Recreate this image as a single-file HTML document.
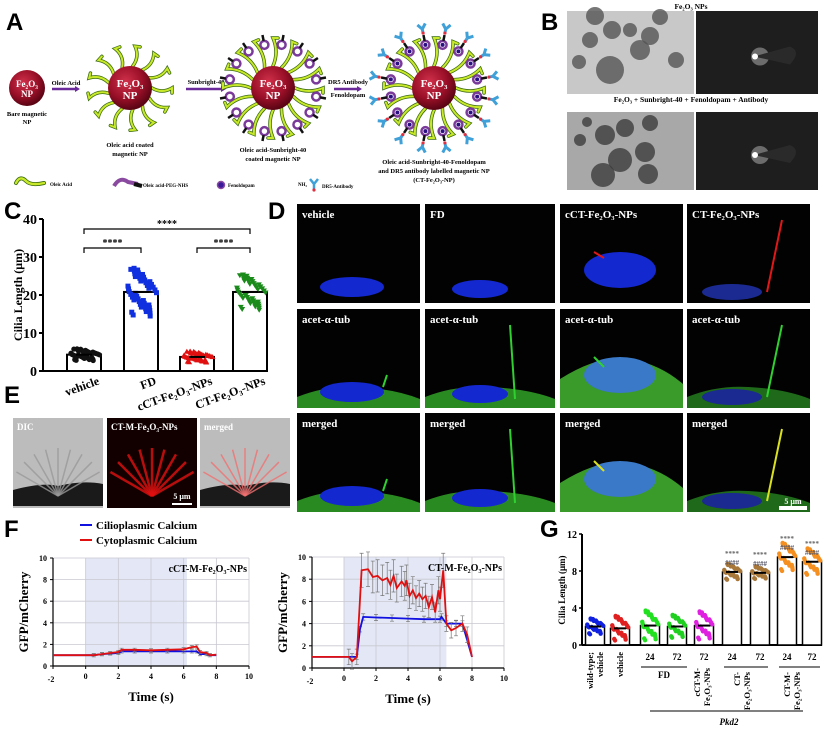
<!DOCTYPE html>
<html><head><meta charset="utf-8">
<style>
html,body{margin:0;padding:0;background:#fff;width:824px;height:732px;overflow:hidden}
svg{display:block;font-family:"Liberation Serif","DejaVu Serif",serif;font-weight:bold}
.pl{font-family:"Liberation Sans",sans-serif;font-weight:bold;font-size:24px}
</style></head><body>
<svg id="fig" width="824" height="732" viewBox="0 0 824 732" xmlns="http://www.w3.org/2000/svg">
<defs>
<radialGradient id="np" cx="40%" cy="35%" r="65%"><stop offset="0" stop-color="#d0304a"/><stop offset="0.6" stop-color="#9a1028"/><stop offset="1" stop-color="#5a0414"/></radialGradient>
</defs>
<text class="pl" x="6" y="30">A</text>
<text class="pl" x="541" y="30">B</text>
<text class="pl" x="4" y="219">C</text>
<text class="pl" x="268" y="219">D</text>
<text class="pl" x="4" y="403">E</text>
<text class="pl" x="4" y="537">F</text>
<text class="pl" x="540" y="537">G</text>
<g id="panelA"></g>
<g id="panelB"></g>
<g id="panelC"></g>
<g id="panelD"></g>
<g id="panelE"></g>
<g id="panelF"></g>
<g id="panelG"></g>
</svg>
<script>
// ---------- DATA ----------
const cCategories = ["vehicle","FD","cCT-Fe₂O₃-NPs","CT-Fe₂O₃-NPs"];
const cValues = [4.3, 20.8, 3.7, 20.8];
const cSpread = [1.6, 6.5, 1.5, 4.8];
const cColors = ["#111","#1030e0","#e01010","#1a8a1a"];
const cTicks = [0,10,20,30,40];

const fTimes = [-2,0,0.5,1,1.5,2,2.2,3,4,5,6,6.5,6.8,7,7.4,7.6,8];
const fLeftBlue = [1,1,1,1.1,1.15,1.2,1.35,1.35,1.35,1.35,1.35,1.35,1.35,1.1,1.1,1.0,1.0];
const fLeftRed  = [1,1,1,1.1,1.2,1.3,1.5,1.5,1.45,1.5,1.55,1.75,1.8,1.3,1.2,1.0,1.05];
const fRightBlueT = [-2,0.8,1.0,1.2,2,3,4,5,6,6.1,6.4,7,7.4,8];
const fRightBlue  = [1,1,3.5,4.6,4.55,4.5,4.45,4.4,4.4,4.6,4.0,4.0,4.0,1.0];
const fRightRedT = [-2,0.3,0.5,0.8,1.1,1.5,1.8,2.1,2.4,2.7,2.9,3.1,3.3,3.6,3.8,3.9,4.1,4.3,4.5,4.7,4.9,5.1,5.3,5.5,5.7,5.9,6.0,6.2,6.4,6.7,7.0,7.4,7.7,8];
const fRightRed  = [1,1,0.6,1,8.8,8.9,8.2,8.3,7.9,8.1,7.5,8.3,7.2,7.8,7.4,7.9,6.5,7.0,6.3,6.7,6.2,6.5,5.5,6.4,5.0,7.0,6.2,8.8,4.0,3.4,3.6,4.0,3.0,1.0];
const fTicksX = [-2,0,2,4,6,8,10];
const fTicksY = [0,2,4,6,8,10];

const gValues = [2.0,1.8,2.1,2.0,2.1,7.9,7.8,9.5,9.0];
const gSpread = [0.9,1.4,1.7,1.3,1.6,0.9,0.7,1.6,1.5];
const gColors = ["#1020e0","#e02020","#20e020","#20d020","#e020e0","#a8783a","#a8783a","#f59020","#f59020"];
const gTicks = [0,4,8,12];

// ---------- helpers ----------
const NS="http://www.w3.org/2000/svg";
function mk(tag,attrs,parent){const e=document.createElementNS(NS,tag);for(const k in attrs)e.setAttribute(k,attrs[k]);parent.appendChild(e);return e;}
function tx(parent,x,y,s,size,opts){opts=opts||{};const t=mk('text',{x:x,y:y,'font-size':size,'text-anchor':opts.a||'middle',fill:opts.fill||'#000'},parent);if(opts.rot)t.setAttribute('transform',`rotate(${opts.rot} ${x} ${y})`);if(opts.it)t.setAttribute('font-style','italic');t.textContent=s;return t;}
const FE='Fe₂O₃';
function jit(k){return [((k*0.6180339)%1)-0.5,((k*0.7548777+0.3)%1)-0.5];}

// ---------- Panel A ----------
(function(){
 const g=document.getElementById('panelA');
 function np(cx,cy,r){mk('circle',{cx:cx,cy:cy,r:r,fill:'url(#np)'},g);tx(g,cx,cy-1,FE,r*0.5,{fill:'#fff'});tx(g,cx,cy+r*0.5,'NP',r*0.5,{fill:'#fff'});}
 function ligands(cx,cy,r0,r1,n,purple,ab){
  for(let i=0;i<n;i++){const a=i/n*2*Math.PI;const c=Math.cos(a),s=Math.sin(a);
   const x0=cx+c*r0,y0=cy+s*r0,x1=cx+c*r1,y1=cy+s*r1;
   const mx=cx+c*(r0+r1)/2-s*6,my=cy+s*(r0+r1)/2+c*6;
   const ex=x1+(-s)*5,ey=y1+c*5;
   const d=`M${x0},${y0} Q${mx},${my} ${x1},${y1} L${ex},${ey}`;
   mk('path',{d:d,fill:'none',stroke:'#3a6a10','stroke-width':3.5,'stroke-linecap':'round'},g);
   mk('path',{d:d,fill:'none',stroke:'#c8e82a','stroke-width':2,'stroke-linecap':'round'},g);
   if(purple){const pa=a+Math.PI/n;const pc=Math.cos(pa),ps=Math.sin(pa);const pr=r1-6;
    mk('circle',{cx:cx+pc*pr,cy:cy+ps*pr,r:4,fill:'none',stroke:'#7a3a9a','stroke-width':2.5},g);
    mk('line',{x1:cx+pc*(pr+4),y1:cy+ps*(pr+4),x2:cx+pc*(pr+10),y2:cy+ps*(pr+10),stroke:'#111','stroke-width':2.5},g);
    if(ab){const ax=cx+pc*(pr+16),ay=cy+ps*(pr+16);
     mk('path',{d:`M${ax-pc*4},${ay-ps*4} L${ax},${ay} M${ax},${ay} l${pc*5-ps*4},${ps*5+pc*4} M${ax},${ay} l${pc*5+ps*4},${ps*5-pc*4}`,stroke:'#40a0d8','stroke-width':3,fill:'none'},g);
     mk('circle',{cx:ax-pc*4,cy:ay-ps*4,r:1.6,fill:'#e03040'},g);
     mk('circle',{cx:cx+pc*pr,cy:cy+ps*pr,r:2,fill:'#2a1080'},g);}
   }}
 }
 np(27,88,18);
 tx(g,27,116,'Bare magnetic',6.5);tx(g,27,124,'NP',6.5);
 function arrow(x0,x1,y){mk('line',{x1:x0,y1:y,x2:x1-3,y2:y,stroke:'#6a2a9a','stroke-width':2.5},g);mk('path',{d:`M${x1},${y} l-5,-3 v6z`,fill:'#6a2a9a'},g);}
 arrow(52,80,89);tx(g,66,85,'Oleic Acid',6.5);
 ligands(130,88,22,42,13,false,false);np(130,88,22);
 tx(g,130,147,'Oleic acid coated',6.5);tx(g,130,156,'magnetic NP',6.5);
 arrow(186,226,89);tx(g,206,84,'Sunbright-40',6.5);
 ligands(273,88,22,50,16,true,false);np(273,88,22);
 tx(g,273,152,'Oleic acid-Sunbright-40',6.5);tx(g,273,161,'coated magnetic NP',6.5);
 arrow(334,362,89);tx(g,348,84,'DR5 Antibody',6.5);tx(g,348,97,'Fenoldopam',6.5);
 ligands(434,88,22,50,16,true,true);np(434,88,22);
 tx(g,434,164,'Oleic acid-Sunbright-40-Fenoldopam',6.5);tx(g,434,173,'and DR5 antibody labelled  magnetic NP',6.5);tx(g,434,182,'(CT-Fe₂O₃-NP)',6.5);
 mk('path',{d:'M16,183 q4,-8 10,-2 q5,5 18,2',stroke:'#3a6a10','stroke-width':4,fill:'none','stroke-linecap':'round'},g);
 mk('path',{d:'M16,183 q4,-8 10,-2 q5,5 18,2',stroke:'#c8e82a','stroke-width':2.4,fill:'none','stroke-linecap':'round'},g);
 tx(g,50,186,'Oleic Acid',5,{a:'start'});
 mk('path',{d:'M114,186 q6,-10 14,-4 l10,2',stroke:'#8a4aa0','stroke-width':4,fill:'none'},g);
 mk('line',{x1:134,y1:184,x2:142,y2:186,stroke:'#111','stroke-width':4},g);
 tx(g,143,187,'Oleic acid-PEG-NHS',5,{a:'start'});
 mk('circle',{cx:221,cy:185,r:3.5,fill:'#3a1a9a',stroke:'#8a4aa0','stroke-width':1.5},g);
 tx(g,228,187,'Fenoldopam',5,{a:'start'});
 tx(g,298,186,'NH₂',5,{a:'start'});
 mk('path',{d:'M314,190 v-6 l-4,-5 M314,184 l4,-5',stroke:'#40a0d8','stroke-width':2.5,fill:'none'},g);
 mk('circle',{cx:314,cy:190,r:1.6,fill:'#e03040'},g);
 tx(g,322,188,'DR5-Antibody',5,{a:'start'});
})();

// ---------- Panel B ----------
(function(){
 const g=document.getElementById('panelB');
 tx(g,691,9,'Fe₂O₃ NPs',7.5);
 tx(g,691,102,'Fe₂O₃ + Sunbright-40 + Fenoldopam + Antibody',7.5);
 const rows=[[11,94],[112,190]];
 const tops=[[[595,16,9],[612,30,9],[660,17,8],[650,36,9],[579,62,7],[610,70,14],[640,50,10],[676,60,8],[590,40,8],[630,30,7]],
            [[605,135,10],[625,128,9],[580,140,6],[645,152,10],[620,160,12],[603,175,12],[648,174,10],[650,123,8],[587,122,5]]];
 rows.forEach((r,i)=>{
  mk('rect',{x:567,y:r[0],width:127,height:r[1]-r[0],fill:i?'#a8a8a8':'#c8c8c8'},g);
  tops[i].forEach(p=>{mk('circle',{cx:p[0],cy:p[1],r:p[2],fill:i?'#3c3c3c':'#555','fill-opacity':0.8},g);});
  mk('rect',{x:696,y:r[0],width:122,height:r[1]-r[0],fill:'#1e1e1e'},g);
  const cy=(r[0]+r[1])/2+4;
  mk('circle',{cx:760,cy:cy,r:9,fill:'#fff','fill-opacity':0.35},g);
  mk('path',{d:`M754,${cy} L790,${cy-10} q12,5 0,18 z`,fill:'#2a2a2a'},g);
  mk('circle',{cx:755,cy:cy,r:3,fill:'#fff'},g);
 });
})();

// ---------- Panel C ----------
(function(){
 const g=document.getElementById('panelC');
 const x0=43,y0=371,yTop=219,yMax=40;
 const ys=v=>y0-(v/yMax)*(y0-yTop);
 const xc=[84,141,197,250],bw=34;
 mk('line',{x1:x0,y1:yTop,x2:x0,y2:y0,stroke:'#000','stroke-width':2},g);
 mk('line',{x1:x0,y1:y0,x2:268,y2:y0,stroke:'#000','stroke-width':2},g);
 cTicks.forEach(t=>{mk('line',{x1:x0-4,y1:ys(t),x2:x0,y2:ys(t),stroke:'#000','stroke-width':2},g);tx(g,x0-6,ys(t)+5,t,14,{a:'end'});});
 tx(g,22,295,'Cilia Length (μm)',12,{rot:-90});
 cValues.forEach((v,i)=>{
  const b=mk('rect',{x:xc[i]-bw/2,y:ys(v),width:bw,height:y0-ys(v),fill:'#fff',stroke:'#000','stroke-width':2},g);
  
  
  for(let k=1;k<=45;k++){
   const [f,h]=jit(k);
   const px=xc[i]+h*bw*0.95*(1-Math.abs(f)*0.8), py=ys(v+f*2*cSpread[i]);
   if(i==1) mk('rect',{x:px-2.5,y:py-2.5,width:5,height:5,fill:cColors[i]},g);
   else if(i==3) mk('path',{d:`M${px-3},${py-2} h6 l-3,5z`,fill:cColors[i]},g);
   else if(i==2) mk('path',{d:`M${px-3},${py+2} h6 l-3,-5z`,fill:cColors[i]},g);
   else mk('circle',{cx:px,cy:py,r:2.6,fill:cColors[i]},g);
  }
  mk('line',{x1:xc[i]-8,y1:ys(v),x2:xc[i]+8,y2:ys(v),stroke:'#000','stroke-width':2},g);
  tx(g,xc[i]+16,384,cCategories[i],12,{a:'end',rot:-20});
 });
 function br(a,b,y){mk('path',{d:`M${xc[a]},${y+5} v-5 H${xc[b]} v5`,stroke:'#000','stroke-width':1.2,fill:'none'},g);tx(g,(xc[a]+xc[b])/2,y-2,'****',10);}
 br(0,3,229);br(0,1,248);br(2,3,248);
})();

// ---------- Panel D ----------
(function(){
 const g=document.getElementById('panelD');
 const cols=[297,425,560,687],w=[123,130,123,123],rows=[204,309,413],h=99;
 const titles=['vehicle','FD','cCT-'+FE+'-NPs','CT-'+FE+'-NPs'];
 const rowT=['','acet-α-tub','merged'];
 cols.forEach((cx,c)=>{rows.forEach((ry,r)=>{
  const cell=mk('g',{},g);
  
  
  mk('rect',{x:cx,y:ry,width:w[c],height:h,fill:'#020202'},cell);
  const W=w[c];
  if(r>0){
   if(c==2) mk('path',{d:`M${cx},${ry+70} q40,-25 70,-20 q30,5 ${W-70},25 v24 h-${W} z`,fill:'#3a9a2a'},cell);
   else mk('path',{d:`M${cx},${ry+88} q30,-12 ${W*0.5},-10 q${W*0.3},2 ${W*0.5},12 v9 h-${W} z`,fill:c==3?'#1e6a1a':'#2a8a22'},cell);
  }
  const nuc={0:[55,83,32,10],1:[55,85,28,9],2:[60,66,36,18],3:[45,88,30,8]}[c];
  mk('ellipse',{cx:cx+nuc[0],cy:ry+nuc[1],rx:nuc[2],ry:nuc[3],fill:c==2&&r>0?'#3a78c8':(c==3?'#1a2a90':'#1428d0')},cell);
  const col=r==0?(c>=2?'#e01818':null):(r==1?'#30d030':(c>=2?'#d8e020':'#30d030'));
  const cp={0:[90,58,86,78],1:[85,8,90,90],2:[34,40,44,58],3:[95,8,80,88]}[c];
  if(col) mk('line',{x1:cx+cp[0],y1:ry+cp[1]+8,x2:cx+cp[2],y2:ry+cp[3]-(r==0&&c==2?4:0),stroke:col,'stroke-width':2},cell);
  tx(cell,cx+5,ry+14,r==0?titles[c]:rowT[r],11,{a:'start',fill:'#fff'});
 });});
 mk('rect',{x:779,y:506,width:28,height:4,fill:'#fff'},g);
 tx(g,793,504,'5 μm',8,{fill:'#fff'});
})();

// ---------- Panel E ----------
(function(){
 const g=document.getElementById('panelE');
 const xs=[13,107,200],titles=['DIC','CT-M-'+FE+'-NPs','merged'];
 xs.forEach((x,i)=>{
  const cell=mk('g',{},g);
  
  
  mk('rect',{x:x,y:418,width:90,height:90,fill:i==1?'#120000':'#bcbcbc'},cell);
  if(i!=1) mk('path',{d:`M${x},${418+72} q30,-8 45,-4 q25,-6 45,-2 v22 h-90 z`,fill:'#1a1a1a'},cell);
  const c=i==1?'#e01010':(i==2?'#f07070':'#999');
  for(let k=0;k<9;k++){const ang=-150+k*15;const r=48;
   mk('line',{x1:x+45,y1:418+78,x2:x+45+Math.cos(ang*Math.PI/180)*r,y2:418+78+Math.sin(ang*Math.PI/180)*r,stroke:c,'stroke-width':i==1?2.5:1.5,'stroke-opacity':0.8},cell);}
  tx(cell,x+4,430,titles[i],9,{a:'start',fill:'#fff'});
 });
 mk('rect',{x:172,y:503,width:20,height:2,fill:'#fff'},g);
 tx(g,182,499,'5 μm',8,{fill:'#fff'});
})();

// ---------- Panel F ----------
(function(){
 const g=document.getElementById('panelF');
 mk('line',{x1:80,y1:525,x2:92,y2:525,stroke:'#1010e0','stroke-width':2},g);tx(g,96,529,'Cilioplasmic Calcium',11,{a:'start'});
 mk('line',{x1:80,y1:540,x2:92,y2:540,stroke:'#e01010','stroke-width':2},g);tx(g,96,544,'Cytoplasmic Calcium',11,{a:'start'});
 function chart(ox,x1,yTop,y0,shadeEnd,label,series){
  const xs=v=>ox+(v+2)/12*(x1-ox), ys=v=>y0-v/10*(y0-yTop);
  mk('rect',{x:xs(0),y:yTop,width:xs(shadeEnd)-xs(0),height:y0-yTop,fill:'#e4e8f6'},g);
  fTicksY.forEach(t=>{if(t>0)mk('line',{x1:ox,y1:ys(t),x2:x1,y2:ys(t),stroke:'#c8c8d0','stroke-width':0.8},g);
   mk('line',{x1:ox-3,y1:ys(t),x2:ox,y2:ys(t),stroke:'#000'},g);tx(g,ox-6,ys(t)+3,t,8,{a:'end'});});
  fTicksX.forEach(t=>{if(t>-2)mk('line',{x1:xs(t),y1:yTop,x2:xs(t),y2:y0,stroke:'#c8c8d0','stroke-width':0.8},g);
   mk('line',{x1:xs(t),y1:y0,x2:xs(t),y2:y0+3,stroke:'#000'},g);tx(g,xs(t)+(t==-2?-2:0),y0+(t==-2?16:13),t,8);});
  mk('line',{x1:ox,y1:yTop,x2:ox,y2:y0,stroke:'#000','stroke-width':1.2},g);
  mk('line',{x1:ox,y1:y0,x2:x1,y2:y0,stroke:'#000','stroke-width':1.2},g);
  tx(g,(ox+x1)/2,y0+35,'Time (s)',13);
  tx(g,ox-25,(yTop+y0)/2,'GFP/mCherry',13,{rot:-90});
  tx(g,x1-2,yTop+14,label,10,{a:'end'});
  series.forEach(s=>{
   const d=s.t.map((t,i)=>(i?'L':'M')+xs(t).toFixed(1)+','+ys(s.v[i]).toFixed(1)).join(' ');
   s.t.forEach((t,i)=>{if(t>0&&t<8){const e=s.err*Math.max(1,s.v[i]/4);
     mk('path',{d:`M${xs(t)},${ys(s.v[i]+e)} V${ys(s.v[i]-e)} M${xs(t)-2},${ys(s.v[i]+e)} h4 M${xs(t)-2},${ys(s.v[i]-e)} h4`,stroke:'#777','stroke-width':0.7},g);}});
   const p=mk('path',{d:d,fill:'none',stroke:s.c,'stroke-width':1.8},g);
   
   
  });
 }
 chart(53,249,558,666,6.2,'cCT-M-'+FE+'-NPs',[{t:fTimes,v:fLeftBlue,c:'#1010e0',err:0.15,n:'line-cilioplasmic-left'},{t:fTimes,v:fLeftRed,c:'#e01010',err:0.15,n:'line-cytoplasmic-left'}]);
 chart(312,504,557,668,6.4,'CT-M-'+FE+'-NPs',[{t:fRightBlueT,v:fRightBlue,c:'#1010e0',err:0.25,n:'line-cilioplasmic-right'},{t:fRightRedT,v:fRightRed,c:'#e01010',err:0.7,n:'line-cytoplasmic-right'}]);
})();

// ---------- Panel G ----------
(function(){
 const g=document.getElementById('panelG');
 const x0=582,y0=645,yTop=534;
 const ys=v=>y0-v/12*(y0-yTop);
 const xc=[595,620,650,677,704,732,760,787,812],bw=19;
 mk('line',{x1:x0,y1:yTop,x2:x0,y2:y0,stroke:'#000','stroke-width':2},g);
 mk('line',{x1:x0,y1:y0,x2:822,y2:y0,stroke:'#000','stroke-width':2},g);
 gTicks.forEach(t=>{mk('line',{x1:x0-3,y1:ys(t),x2:x0,y2:ys(t),stroke:'#000','stroke-width':1.5},g);tx(g,x0-5,ys(t)+4,t,10,{a:'end'});});
 tx(g,565,590,'Cilia Length (μm)',9,{rot:-90});
 gValues.forEach((v,i)=>{
  const b=mk('rect',{x:xc[i]-bw/2,y:ys(v),width:bw,height:y0-ys(v),fill:'#fff',stroke:'#000','stroke-width':1.5},g);
  
  
  for(let k=1;k<=30;k++){const [f,h]=jit(k);
   mk('circle',{cx:xc[i]+h*bw*(1-Math.abs(f)*0.7),cy:ys(v+f*2*gSpread[i]),r:2.2,fill:gColors[i]},g);}
  mk('line',{x1:xc[i]-6,y1:ys(v),x2:xc[i]+6,y2:ys(v),stroke:'#000','stroke-width':2},g);
  if(i>=5){tx(g,xc[i],ys(v)-16,'****',7,{fill:'#666'});tx(g,xc[i],ys(v)-7,'####',7,{fill:'#556'});}
 });
 [[2,'24'],[3,'72'],[4,'72'],[5,'24'],[6,'72'],[7,'24'],[8,'72']].forEach(p=>tx(g,xc[p[0]],660,p[1],9));
 mk('line',{x1:641,y1:667,x2:687,y2:667,stroke:'#000'},g);tx(g,664,678,'FD',9);
 mk('line',{x1:724,y1:667,x2:768,y2:667,stroke:'#000'},g);
 mk('line',{x1:779,y1:667,x2:820,y2:667,stroke:'#000'},g);
 const rl=[[595,652,['wild-type;','vehicle']],[620,652,['vehicle']],[702,668,['cCT-M-',FE+'-NPs']],[742,672,['CT-',FE+'-NPs']],[792,672,['CT-M-',FE+'-NPs']]];
 rl.forEach(p=>{const lines=p[2];lines.forEach((s,j)=>{const x=p[0]+(j-(lines.length-1)/2)*10+3;tx(g,x,p[1],s,8.5,{a:'end',rot:-90});});});
 mk('line',{x1:650,y1:711,x2:803,y2:711,stroke:'#000'},g);
 tx(g,729,725,'Pkd2',9,{it:true});
})();
</script>
</body></html>
